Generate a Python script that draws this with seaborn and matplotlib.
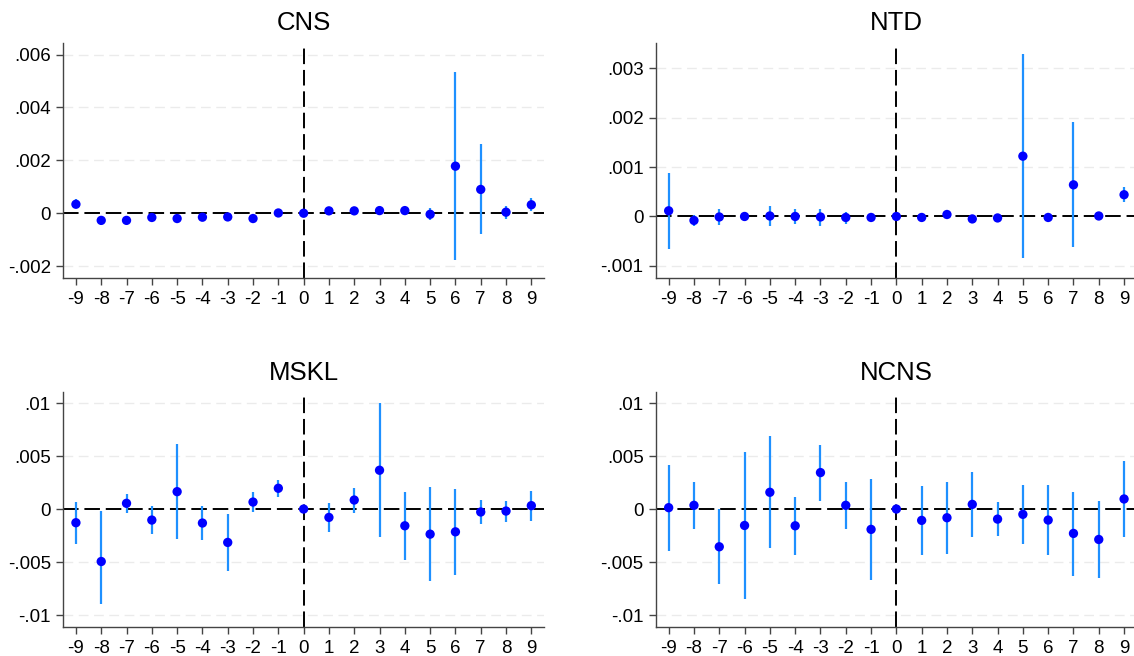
import numpy as np
import pandas as pd
import matplotlib
matplotlib.use("Agg")
import matplotlib.pyplot as plt
import seaborn as sns
from matplotlib.ticker import FuncFormatter

# === Dados
periodos = list(range(-9, 10))

cns_coef = [0.00034, -0.00027, -0.00027, -0.00016, -0.00020, -0.00015, -0.00014, -0.00020, 0.00001,
            0.0, 0.00009, 0.00009, 0.00010, 0.00010, -0.00004, 0.00178, 0.00090, 0.00004, 0.00032]
cns_lo = [0.00018, -0.00043, -0.00040, -0.00030, -0.00034, -0.00029, -0.00028, -0.00035, -0.00003,
          0.0, 0.00002, 0.00002, 0.00003, 0.00003, -0.00027, -0.00178, -0.00080, -0.00020, 0.00008]
cns_hi = [0.00052, -0.00012, -0.00014, -0.00003, -0.00007, -0.00002, 0.00001, -0.00006, 0.00005,
          0.0, 0.00016, 0.00016, 0.00017, 0.00017, 0.00018, 0.00534, 0.00260, 0.00028, 0.00056]

ntd_coef = [0.000115, -0.00008, -0.00001, 0.0, 0.00001, 0.0, -0.00001, -0.00002, -0.00002,
            0.0, -0.00002, 0.00004, -0.00005, -0.00003, 0.00122, -0.00002, 0.00064, 0.00001, 0.00044]
ntd_lo = [-0.00066, -0.00020, -0.00018, -0.00010, -0.00020, -0.00016, -0.00019, -0.00016, -0.00005,
          0.0, -0.00005, 0.00001, -0.00008, -0.00006, -0.00084, -0.00005, -0.00062, -0.00002, 0.00029]
ntd_hi = [0.00087, 0.00003, 0.00016, 0.00010, 0.00021, 0.00015, 0.00016, 0.00010, 0.00001,
          0.0, 0.00001, 0.00007, -0.00002, 0.0, 0.00328, 0.00001, 0.00191, 0.00004, 0.00059]

mskl_coef = [-0.00129, -0.00495, 0.00054, -0.00104, 0.00164, -0.00132, -0.00315, 0.00066, 0.00196,
             0.0, -0.00079, 0.00085, 0.00366, -0.00158, -0.00237, -0.00215, -0.00028, -0.00019, 0.00032]
mskl_lo = [-0.00328, -0.00893, -0.00041, -0.00233, -0.00284, -0.00293, -0.00584, -0.00028, 0.00117,
           0.0, -0.00218, -0.00035, -0.00262, -0.00483, -0.00678, -0.00621, -0.00142, -0.00120, -0.00114]
mskl_hi = [0.00069, -0.00016, 0.00145, 0.00028, 0.00615, 0.00028, -0.00047, 0.00158, 0.00274,
           0.0, 0.00060, 0.00200, 0.00997, 0.00161, 0.00205, 0.00189, 0.00082, 0.00073, 0.00173]

ncns_coef = [0.00013, 0.00035, -0.00356, -0.00155, 0.00158, -0.00158, 0.00344, 0.00035, -0.00192,
             0.0, -0.00107, -0.00082, 0.00044, -0.00095, -0.00050, -0.00104, -0.00230, -0.00287, 0.00095]
ncns_lo = [-0.00397, -0.00186, -0.00710, -0.00849, -0.00372, -0.00429, 0.00076, -0.00186, -0.00669,
           0.0, -0.00435, -0.00423, -0.00265, -0.00259, -0.00328, -0.00432, -0.00631, -0.00650, -0.00268]
ncns_hi = [0.00420, 0.00256, 0.0, 0.00540, 0.00685, 0.00114, 0.00606, 0.00256, 0.00287,
           0.0, 0.00218, 0.00256, 0.00350, 0.00069, 0.00227, 0.00227, 0.00164, 0.00076, 0.00454]

titulos = ['CNS', 'NTD', 'MSKL', 'NCNS']
yticks = [[-0.002, 0, 0.002, 0.004, 0.006],
          [-0.001, 0, 0.001, 0.002, 0.003],
          [-0.01, -0.005, 0, 0.005, 0.01],
          [-0.01, -0.005, 0, 0.005, 0.01]]
ylims = [(-0.00245, 0.00644), (-0.001245, 0.00351), (-0.01113, 0.01104), (-0.01113, 0.01104)]

series = [(cns_coef, cns_lo, cns_hi), (ntd_coef, ntd_lo, ntd_hi),
          (mskl_coef, mskl_lo, mskl_hi), (ncns_coef, ncns_lo, ncns_hi)]

# === Estilo
sns.set_style('white')
plt.rcParams['font.family'] = ['Liberation Sans', 'DejaVu Sans']
plt.rcParams['axes.unicode_minus'] = False
plt.rcParams['text.color'] = 'black'
plt.rcParams['axes.titlecolor'] = 'black'


def fmt_stata(v, pos):
    if abs(v) < 1e-12:
        return '0'
    s = f'{v:.3f}'.rstrip('0')
    s = s.replace('0.', '.')
    return s


fig = plt.figure(figsize=(11.34, 6.56), dpi=100)
posicoes = [[0.0558, 0.5762, 0.4239, 0.3583],
            [0.5785, 0.5762, 0.4239, 0.3583],
            [0.0558, 0.0442, 0.4239, 0.3582],
            [0.5785, 0.0442, 0.4239, 0.3582]]

for i, (coef, lo, hi) in enumerate(series):
    ax = fig.add_axes(posicoes[i])
    df = pd.DataFrame({'periodo': periodos, 'coef': coef, 'lo': lo, 'hi': hi})

    for t in yticks[i]:
        if t != 0:
            ax.axhline(t, color='#ebebeb', lw=1.0, ls=(0, (7, 4)), zorder=0)
    ax.axhline(0, color='black', lw=1.4, ls=(0, (8, 3)), zorder=1)
    ax.axvline(0, color='black', lw=1.4, ls=(0, (8, 3)), zorder=1)

    ax.vlines(df['periodo'], df['lo'], df['hi'], color='#1e90ff', lw=1.6, zorder=2)
    sns.scatterplot(data=df, x='periodo', y='coef', ax=ax, color='#0000ff',
                    s=45, edgecolor='none', zorder=3, legend=False)

    ax.set_xlim(-9.5, 9.5)
    ax.set_ylim(*ylims[i])
    ax.set_xticks(periodos)
    ax.set_yticks(yticks[i])
    ax.yaxis.set_major_formatter(FuncFormatter(fmt_stata))
    ax.set_xlabel('')
    ax.set_ylabel('')
    ax.set_title(titulos[i], fontsize=18.5, pad=9)
    ax.tick_params(axis='both', labelsize=13.5, length=5, width=1, color='#444444',
                   labelcolor='black', direction='out', pad=4, bottom=True, left=True)
    for lado in ['top', 'right']:
        ax.spines[lado].set_visible(False)
    for lado in ['left', 'bottom']:
        ax.spines[lado].set_color('#444444')
        ax.spines[lado].set_linewidth(1.0)

fig.savefig('out.png', dpi=100)
